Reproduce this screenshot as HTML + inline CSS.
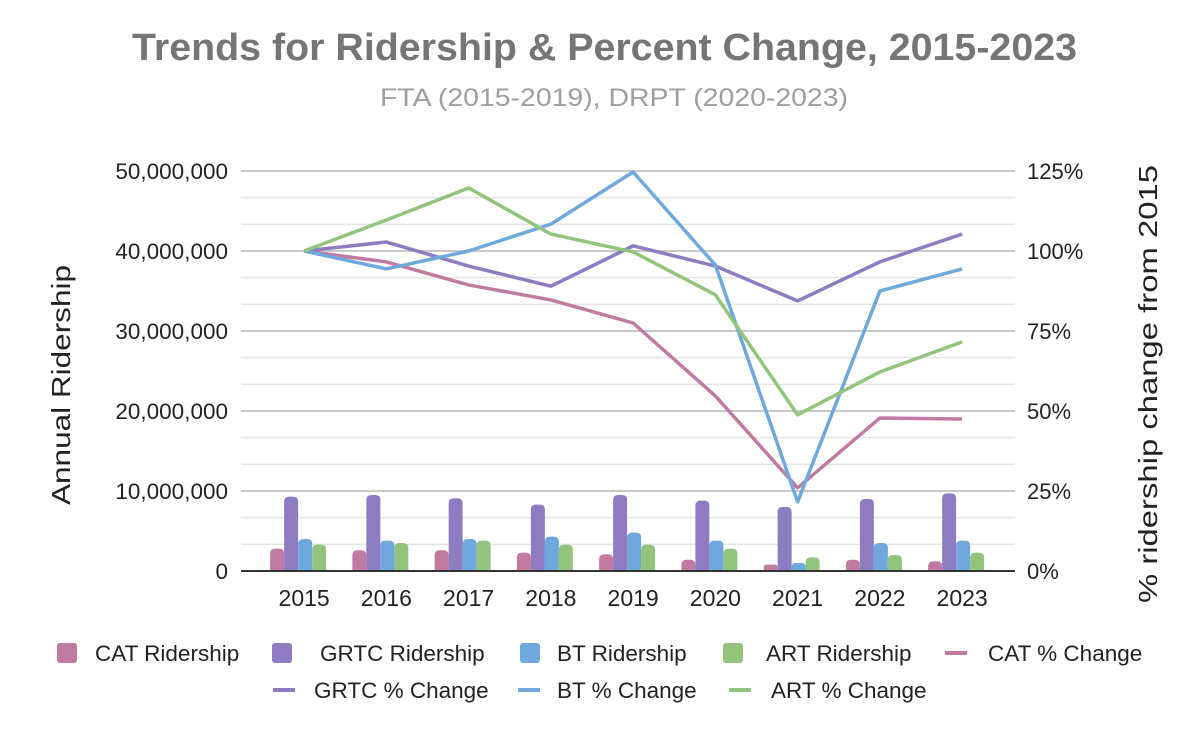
<!DOCTYPE html>
<html><head><meta charset="utf-8"><style>
body{margin:0;background:#fff;font-family:"Liberation Sans",Roboto,sans-serif}
svg text{font-family:"Liberation Sans",sans-serif}
</style></head><body>
<svg id="c" width="1200" height="742" xmlns="http://www.w3.org/2000/svg">
<text x="132" y="60" textLength="945" lengthAdjust="spacingAndGlyphs" font-size="38" font-weight="bold" fill="#757575">Trends for Ridership &amp; Percent Change, 2015-2023</text>
<text x="380" y="106" textLength="468" lengthAdjust="spacingAndGlyphs" font-size="25" fill="#9e9e9e">FTA (2015-2019), DRPT (2020-2023)</text>
<text transform="translate(70,505) rotate(-90)" textLength="240" lengthAdjust="spacingAndGlyphs" font-size="26" fill="#222">Annual Ridership</text>
<text transform="translate(1157,603) rotate(-90)" textLength="438" lengthAdjust="spacingAndGlyphs" font-size="26" fill="#222">% ridership change from 2015</text>
<g id="grid"></g><g id="bars"></g><g id="lines"></g><g id="axes"></g><g id="legend"></g>
</svg>
<script>
const categories=["2015","2016","2017","2018","2019","2020","2021","2022","2023"];
const catRidership=[2.8,2.6,2.6,2.3,2.1,1.4,0.8,1.4,1.2];
const grtcRidership=[9.3,9.5,9.1,8.3,9.5,8.8,8.0,9.0,9.7];
const btRidership=[4.0,3.8,4.0,4.3,4.8,3.8,1.0,3.5,3.8];
const artRidership=[3.3,3.5,3.8,3.3,3.3,2.8,1.7,2.0,2.3];
const catPct=[100,96.6,89.4,84.7,77.5,54.7,26,47.8,47.5];
const grtcPct=[100,102.8,95.3,89,101.6,95.3,84.4,96.6,105.3];
const btPct=[100,94.4,100,108.4,124.7,95.6,21.6,87.5,94.4];
const artPct=[100,109.7,119.7,105.3,99.7,86.3,48.8,62.2,71.6];
const leftTicks=["0","10,000,000","20,000,000","30,000,000","40,000,000","50,000,000"];
const rightTicks=["0%","25%","50%","75%","100%","125%"];
const NS="http://www.w3.org/2000/svg";
const X0=263,BW=82.25,Y0=571,Y1=171,GL=241;
const xc=i=>X0+BW*(i+0.5);
const yL=m=>Y0-(m/50)*(Y0-Y1);
const yR=p=>Y0-(p/125)*(Y0-Y1);
function mk(t,a,p){const e=document.createElementNS(NS,t);for(const k in a)e.setAttribute(k,a[k]);p.appendChild(e);return e;}
const grid=document.getElementById('grid');
for(let i=0;i<=15;i++){const y=Y0-i*(Y0-Y1)/15;if(i===0)continue;
const l=mk('line',{x1:GL,x2:1015,y1:y,y2:y,stroke:i%3===0?'#c8c8c8':'#e4e4e4','stroke-width':i%3===0?2:1.5},grid);

}
const axes=document.getElementById('axes');
const base=mk('line',{x1:GL,x2:1015,y1:Y0,y2:Y0,stroke:'#333','stroke-width':2},axes);


leftTicks.forEach((t,i)=>{const e=mk('text',{x:228,y:Y0-i*80+8,'text-anchor':'end','font-size':22.5,fill:'#222'},axes);e.textContent=t;

});
rightTicks.forEach((t,i)=>{const e=mk('text',{x:1027,y:Y0-i*80+8,'font-size':22,fill:'#222'},axes);e.textContent=t;

});
categories.forEach((c,i)=>{const e=mk('text',{x:xc(i),y:606,'text-anchor':'middle','font-size':23,fill:'#222'},axes);e.textContent=c;

});
const cols=['#c27ba0','#8e7cc3','#6fa8dc','#93c47d'];
const barSeries=[catRidership,grtcRidership,btRidership,artRidership];
const bars=document.getElementById('bars');
barSeries.forEach((s,k)=>s.forEach((v,i)=>{const x=xc(i)-34+k*14,y=yL(v),h=Y0-y,r=Math.min(5,h/2);
const p=mk('path',{d:`M${x},${Y0}V${y+r}Q${x},${y} ${x+r},${y}H${x+14-r}Q${x+14},${y} ${x+14},${y+r}V${Y0}Z`,fill:cols[k]},bars);

}));
const lineSeries=[catPct,grtcPct,btPct,artPct];
const lines=document.getElementById('lines');
lineSeries.forEach((s,k)=>{const p=mk('polyline',{points:s.map((v,i)=>xc(i)+','+yR(v)).join(' '),fill:'none',stroke:cols[k],'stroke-width':3.5,'stroke-linejoin':'round'},lines);

});
const leg=document.getElementById('legend');
const items=[[0,'sq',67,653,95,'CAT Ridership'],[1,'sq',282,653,320,'GRTC Ridership'],[2,'sq',530,653,557,'BT Ridership'],[3,'sq',733,653,766,'ART Ridership'],[0,'ln',956,653,988,'CAT % Change'],[1,'ln',284,690,314,'GRTC % Change'],[2,'ln',529,690,557,'BT % Change'],[3,'ln',740,690,771,'ART % Change']];
items.forEach(([k,t,mx,y,tx,lab])=>{const g=mk('g',{},leg);


if(t==='sq')mk('rect',{x:mx-10,y:y-10,width:20,height:20,rx:3,fill:cols[k]},g);
else mk('line',{x1:mx-11,x2:mx+11,y1:y,y2:y,stroke:cols[k],'stroke-width':4},g);
const e=mk('text',{x:tx,y:y+8,'font-size':22.5,fill:'#222'},g);e.textContent=lab;});
</script>
</body></html>
